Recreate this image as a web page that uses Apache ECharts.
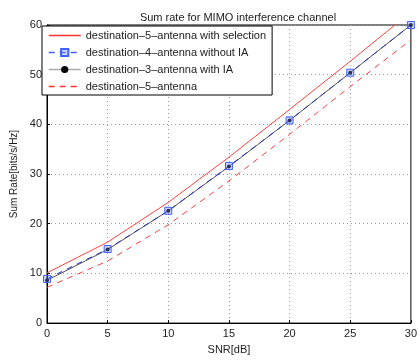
<!DOCTYPE html>
<html><head><meta charset="utf-8">
<script src="https://cdn.jsdelivr.net/npm/echarts@6/dist/echarts.min.js"></script>
<style>html,body{margin:0;padding:0;background:#fff}#c{width:420px;height:360px}</style>
</head><body><div id="c"></div>
<script>
const snr = [0, 5, 10, 15, 20, 25, 30];
const dest5Sel = [10.1, 16.3, 24.3, 33.4, 43.0, 52.7, 62.6];
const dest4NoIA = [8.9, 14.9, 22.6, 31.6, 40.8, 50.4, 60.0];
const dest3IA = [8.6, 14.8, 22.6, 31.5, 40.8, 50.4, 60.0];
const dest5 = [7.2, 12.5, 19.8, 28.6, 38.0, 47.6, 57.0];
const names = ['destination\u20135\u2013antenna with selection','destination\u20134\u2013antenna without IA','destination\u20133\u2013antenna with IA','destination\u20135\u2013antenna'];
const pairs = a => snr.map((x,i)=>[x,a[i]]);
const font = '"Liberation Sans", Arial, sans-serif';
const chart = echarts.init(document.getElementById('c'));
chart.setOption({
  animation:false,
  textStyle:{fontFamily:font},
  title:{text:'Sum rate for MIMO interference channel',left:233,textAlign:'center',top:7,textStyle:{fontSize:11,fontWeight:'normal',color:'#222',fontFamily:font}},
  grid:{left:47,right:1,top:25,bottom:29,show:true,borderColor:'#000',borderWidth:1},
  legend:{orient:'vertical',left:42,top:26,itemWidth:32,itemHeight:9,itemGap:6,padding:[4,6,3,6],
    backgroundColor:'#fff',borderColor:'#000',borderWidth:1,
    textStyle:{fontSize:11,color:'#222',fontFamily:font},
    data:[
      {name:names[0],itemStyle:{opacity:0},lineStyle:{color:'#ff3030',width:1.4,type:'solid'}},
      {name:names[1],lineStyle:{color:'#4060ff',width:1.4,type:[6,5]}},
      {name:names[2],lineStyle:{color:'#aaa',width:1.4,type:'solid'}},
      {name:names[3],itemStyle:{opacity:0},lineStyle:{color:'#ff3030',width:1.4,type:[6,5]}}
    ]},
  xAxis:{type:'value',min:0,max:30,interval:5,name:'SNR[dB]',nameLocation:'middle',nameGap:18,
    nameTextStyle:{fontSize:11,color:'#222'},
    axisLine:{lineStyle:{color:'#000'}},axisTick:{inside:true,length:3,lineStyle:{color:'#000'}},
    axisLabel:{fontSize:11,color:'#222',margin:5},
    splitLine:{show:true,lineStyle:{type:[1,3],color:'#999'}}},
  yAxis:{type:'value',min:0,max:60,interval:10,name:'Sum Rate[bits/s/Hz]',nameLocation:'middle',nameGap:26,
    nameTextStyle:{fontSize:10,color:'#222'},
    axisLine:{show:true,lineStyle:{color:'#000'}},axisTick:{show:true,inside:true,length:3,lineStyle:{color:'#000'}},
    axisLabel:{fontSize:11,color:'#222',margin:5},
    splitLine:{show:true,lineStyle:{type:[1,3],color:'#999'}}},
  series:[
    {name:names[0],type:'line',data:pairs(dest5Sel),showSymbol:false,symbol:'none',color:'#ff4040',lineStyle:{width:1,color:'#ff4040'}},
    {name:names[3],type:'line',data:pairs(dest5),showSymbol:false,symbol:'none',color:'#ff4040',lineStyle:{width:1,color:'#ff4040',type:[6,5]}},
    {name:names[2],type:'line',data:pairs(dest3IA),symbol:'circle',symbolSize:4,color:'#111',itemStyle:{color:'#000'},lineStyle:{width:1,color:'#555'}},
    {name:names[1],type:'line',data:pairs(dest4NoIA),symbol:'rect',symbolSize:7,color:'#3050ff',itemStyle:{color:'rgba(120,140,255,0.35)',borderColor:'#4060ff',borderWidth:1},lineStyle:{width:1,color:'#2030c0',type:[6,5]}}
  ]
});
</script></body></html>
